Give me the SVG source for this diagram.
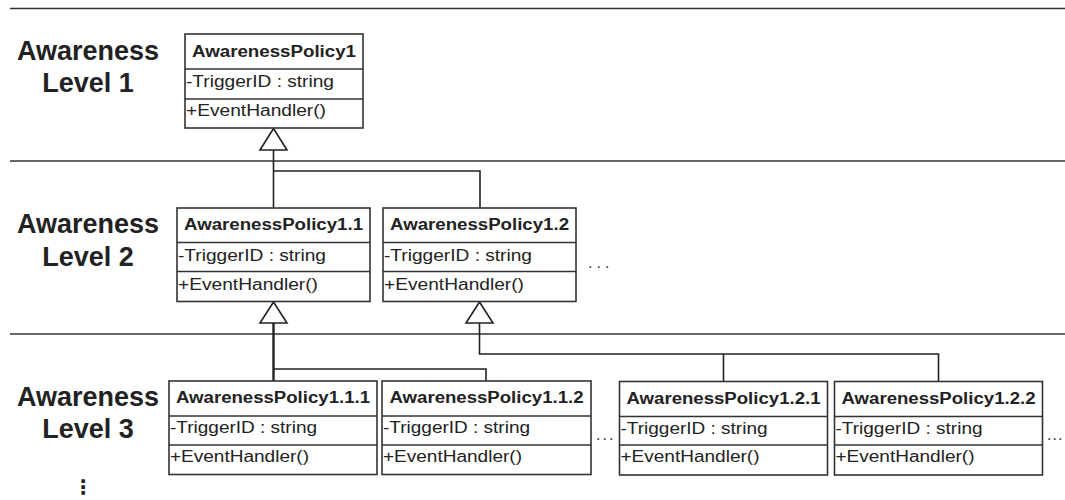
<svg xmlns="http://www.w3.org/2000/svg" width="1065" height="500" viewBox="0 0 1065 500">
  <style>
    .sep { stroke: #333; stroke-width: 1.5; fill: none; }
    .box { fill: #fff; stroke: #333; stroke-width: 1.6; }
    .div { stroke: #333; stroke-width: 1.6; }
    .conn { stroke: #222; stroke-width: 1.6; fill: none; }
    .tri { fill: #fff; stroke: #222; stroke-width: 1.6; }
    .lvl { font-family: "Liberation Sans", Arial, sans-serif; font-weight: bold; font-size: 27px; fill: #222; text-anchor: middle; }
    .title { font-family: "Liberation Sans", Arial, sans-serif; font-weight: bold; font-size: 16px; fill: #222; text-anchor: middle; }
    .member { font-family: "Liberation Sans", Arial, sans-serif; font-size: 16px; fill: #222; }
    .dots { font-family: "Liberation Sans", Arial, sans-serif; font-size: 16px; fill: #333; letter-spacing: 4px; }
    .vdots { font-family: "DejaVu Sans", sans-serif; font-size: 20px; font-weight: bold; fill: #222; text-anchor: middle; }
  </style>

  <!-- level separators -->
  <g id="separators">
    <line class="sep" x1="10" y1="8.5" x2="1065" y2="8.5"/>
    <line class="sep" x1="10" y1="161" x2="1065" y2="161"/>
    <line class="sep" x1="10" y1="334" x2="1065" y2="334"/>
  </g>

  <!-- level labels -->
  <g id="level-labels">
    <text class="lvl" x="88" y="60">Awareness</text>
    <text class="lvl" x="88" y="92">Level 1</text>
    <text class="lvl" x="88" y="233">Awareness</text>
    <text class="lvl" x="88" y="266">Level 2</text>
    <text class="lvl" x="88" y="406">Awareness</text>
    <text class="lvl" x="88" y="438">Level 3</text>
    <text class="vdots" x="83" y="494">⋮</text>
  </g>

  <!-- inheritance connectors -->
  <g id="connectors">
    <path class="conn" d="M273.5,150 V208 M273.5,171 H480 V208"/>
    <polygon class="tri" points="273.5,128.5 260,150 287,150"/>
    <path class="conn" d="M273.5,323 V381" style="stroke-width:2.4"/>
    <path class="conn" d="M273.5,369 H486 V381"/>
    <polygon class="tri" points="273.5,302 260,323 287,323"/>
    <path class="conn" d="M479.5,323 V354 H938.5 V382 M723.5,354 V382"/>
    <polygon class="tri" points="479.5,302 466,323 493,323"/>
  </g>

  <!-- Level 1 -->
  <g id="AwarenessPolicy1">
    <rect class="box" x="185" y="34" width="178" height="94"/>
    <line class="div" x1="185" y1="69" x2="363" y2="69"/>
    <line class="div" x1="185" y1="99" x2="363" y2="99"/>
    <text class="title" x="274" y="57" textLength="164" lengthAdjust="spacingAndGlyphs">AwarenessPolicy1</text>
    <text class="member" x="186" y="87" textLength="148" lengthAdjust="spacingAndGlyphs">-TriggerID : string</text>
    <text class="member" x="186" y="116" textLength="140" lengthAdjust="spacingAndGlyphs">+EventHandler()</text>
  </g>

  <!-- Level 2 -->
  <g id="AwarenessPolicy1.1">
    <rect class="box" x="177" y="208" width="193" height="93.5"/>
    <line class="div" x1="177" y1="242.5" x2="370" y2="242.5"/>
    <line class="div" x1="177" y1="271.5" x2="370" y2="271.5"/>
    <text class="title" x="273.5" y="230" textLength="179" lengthAdjust="spacingAndGlyphs">AwarenessPolicy1.1</text>
    <text class="member" x="178" y="261" textLength="148" lengthAdjust="spacingAndGlyphs">-TriggerID : string</text>
    <text class="member" x="178" y="290" textLength="140" lengthAdjust="spacingAndGlyphs">+EventHandler()</text>
  </g>
  <g id="AwarenessPolicy1.2">
    <rect class="box" x="383" y="208" width="193" height="93.5"/>
    <line class="div" x1="383" y1="242.5" x2="576" y2="242.5"/>
    <line class="div" x1="383" y1="271.5" x2="576" y2="271.5"/>
    <text class="title" x="479.5" y="230" textLength="179" lengthAdjust="spacingAndGlyphs">AwarenessPolicy1.2</text>
    <text class="member" x="384" y="261" textLength="148" lengthAdjust="spacingAndGlyphs">-TriggerID : string</text>
    <text class="member" x="384" y="290" textLength="140" lengthAdjust="spacingAndGlyphs">+EventHandler()</text>
  </g>
  <text class="dots" x="588" y="268">...</text>

  <!-- Level 3 -->
  <g id="AwarenessPolicy1.1.1">
    <rect class="box" x="169" y="381" width="208" height="93.5"/>
    <line class="div" x1="169" y1="416" x2="377" y2="416"/>
    <line class="div" x1="169" y1="445" x2="377" y2="445"/>
    <text class="title" x="273" y="403" textLength="194" lengthAdjust="spacingAndGlyphs">AwarenessPolicy1.1.1</text>
    <text class="member" x="170" y="433" textLength="147" lengthAdjust="spacingAndGlyphs">-TriggerID : string</text>
    <text class="member" x="170" y="462" textLength="139" lengthAdjust="spacingAndGlyphs">+EventHandler()</text>
  </g>
  <g id="AwarenessPolicy1.1.2">
    <rect class="box" x="382" y="381" width="209" height="93.5"/>
    <line class="div" x1="382" y1="416" x2="591" y2="416"/>
    <line class="div" x1="382" y1="445" x2="591" y2="445"/>
    <text class="title" x="486.5" y="403" textLength="194" lengthAdjust="spacingAndGlyphs">AwarenessPolicy1.1.2</text>
    <text class="member" x="383" y="433" textLength="147" lengthAdjust="spacingAndGlyphs">-TriggerID : string</text>
    <text class="member" x="383" y="462" textLength="139" lengthAdjust="spacingAndGlyphs">+EventHandler()</text>
  </g>
  <text class="dots" x="596" y="440" style="letter-spacing:2px">...</text>
  <g id="AwarenessPolicy1.2.1">
    <rect class="box" x="619.5" y="381.5" width="208" height="93.5"/>
    <line class="div" x1="619.5" y1="416.5" x2="827.5" y2="416.5"/>
    <line class="div" x1="619.5" y1="445" x2="827.5" y2="445"/>
    <text class="title" x="723.5" y="403.5" textLength="194" lengthAdjust="spacingAndGlyphs">AwarenessPolicy1.2.1</text>
    <text class="member" x="620.5" y="433.5" textLength="147" lengthAdjust="spacingAndGlyphs">-TriggerID : string</text>
    <text class="member" x="620.5" y="462" textLength="139" lengthAdjust="spacingAndGlyphs">+EventHandler()</text>
  </g>
  <g id="AwarenessPolicy1.2.2">
    <rect class="box" x="834.5" y="381.5" width="208" height="93.5"/>
    <line class="div" x1="834.5" y1="416.5" x2="1042.5" y2="416.5"/>
    <line class="div" x1="834.5" y1="445" x2="1042.5" y2="445"/>
    <text class="title" x="938.5" y="403.5" textLength="194" lengthAdjust="spacingAndGlyphs">AwarenessPolicy1.2.2</text>
    <text class="member" x="835.5" y="433.5" textLength="147" lengthAdjust="spacingAndGlyphs">-TriggerID : string</text>
    <text class="member" x="835.5" y="462" textLength="139" lengthAdjust="spacingAndGlyphs">+EventHandler()</text>
  </g>
  <text class="dots" x="1047" y="440" style="letter-spacing:1px">...</text>
</svg>
